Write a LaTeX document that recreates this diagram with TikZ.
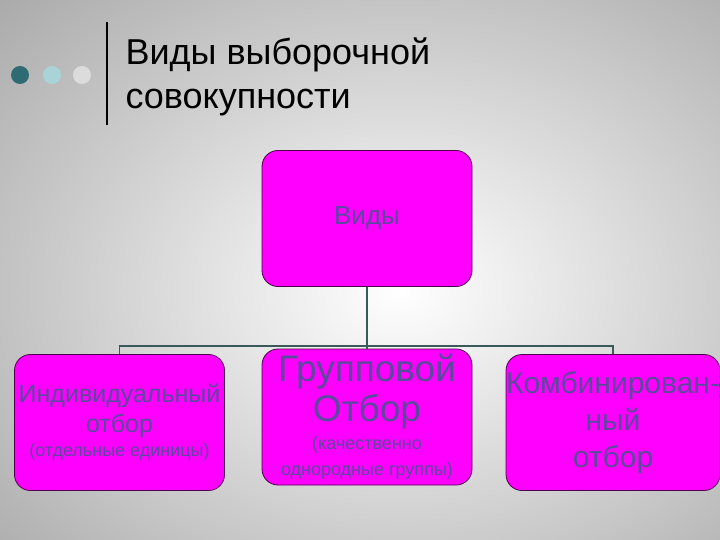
\documentclass[tikz,border=0pt]{standalone}
\usepackage{fontspec}
\setmainfont{Liberation Sans}
\begin{document}
\begin{tikzpicture}[x=1bp,y=-1bp,
  box/.style={draw=violet!60!black,line width=0.8bp,fill=magbox,rounded corners=16bp,minimum width=210bp,minimum height=136bp,inner sep=0pt,align=center,text=txtc},
  conn/.style={draw=linec,line width=1.6bp}]
\definecolor{magbox}{RGB}{255,0,255}
\definecolor{txtc}{HTML}{5A4A9E}
\definecolor{linec}{HTML}{3A5A5A}
\definecolor{bg}{HTML}{9C9C9C}
\useasboundingbox (0,0) rectangle (720,540);
\shade[inner color=white,outer color=bg] (-250,-200) rectangle (1050,780);
\draw[line width=2.5bp] (107,22) -- (107,125);
\fill[fill={rgb,255:red,46;green,107;blue,115}] (20,75) circle (9);
\fill[fill={rgb,255:red,168;green,212;blue,216}] (52,75) circle (9);
\fill[fill={rgb,255:red,220;green,220;blue,220}] (82,75) circle (9);
\node[anchor=west,align=left,font=\fontsize{36bp}{44bp}\selectfont] (title) at (122,77) {Виды выборочной\\совокупности};
\node[box,font=\fontsize{26bp}{30bp}\selectfont] (top) at (367,218.5) {Виды};
\node[box,font=\fontsize{25bp}{30bp}\selectfont] (l) at (119.5,422.5) {Индивидуальный\\отбор\\[-6bp]{\fontsize{18bp}{20bp}\selectfont (отдельные единицы)}};
\node[box,font=\fontsize{37bp}{40bp}\selectfont] (m) at (367,417) {Групповой\\Отбор\\[-12bp]{\fontsize{18bp}{20bp}\selectfont (качественно}\\[-14bp]{\fontsize{18bp}{20bp}\selectfont однородные группы)}};
\node[box,font=\fontsize{30bp}{37bp}\selectfont] (r) at (613,422.5) {Комбинирован-\\ный\\отбор};
\coordinate (j) at (367,346);
\draw[conn] (top.south) -- (j);
\draw[conn] (l.north) |- (j);
\draw[conn] (m.north) -- (j);
\draw[conn] (r.north) |- (j);
\end{tikzpicture}
\end{document}
